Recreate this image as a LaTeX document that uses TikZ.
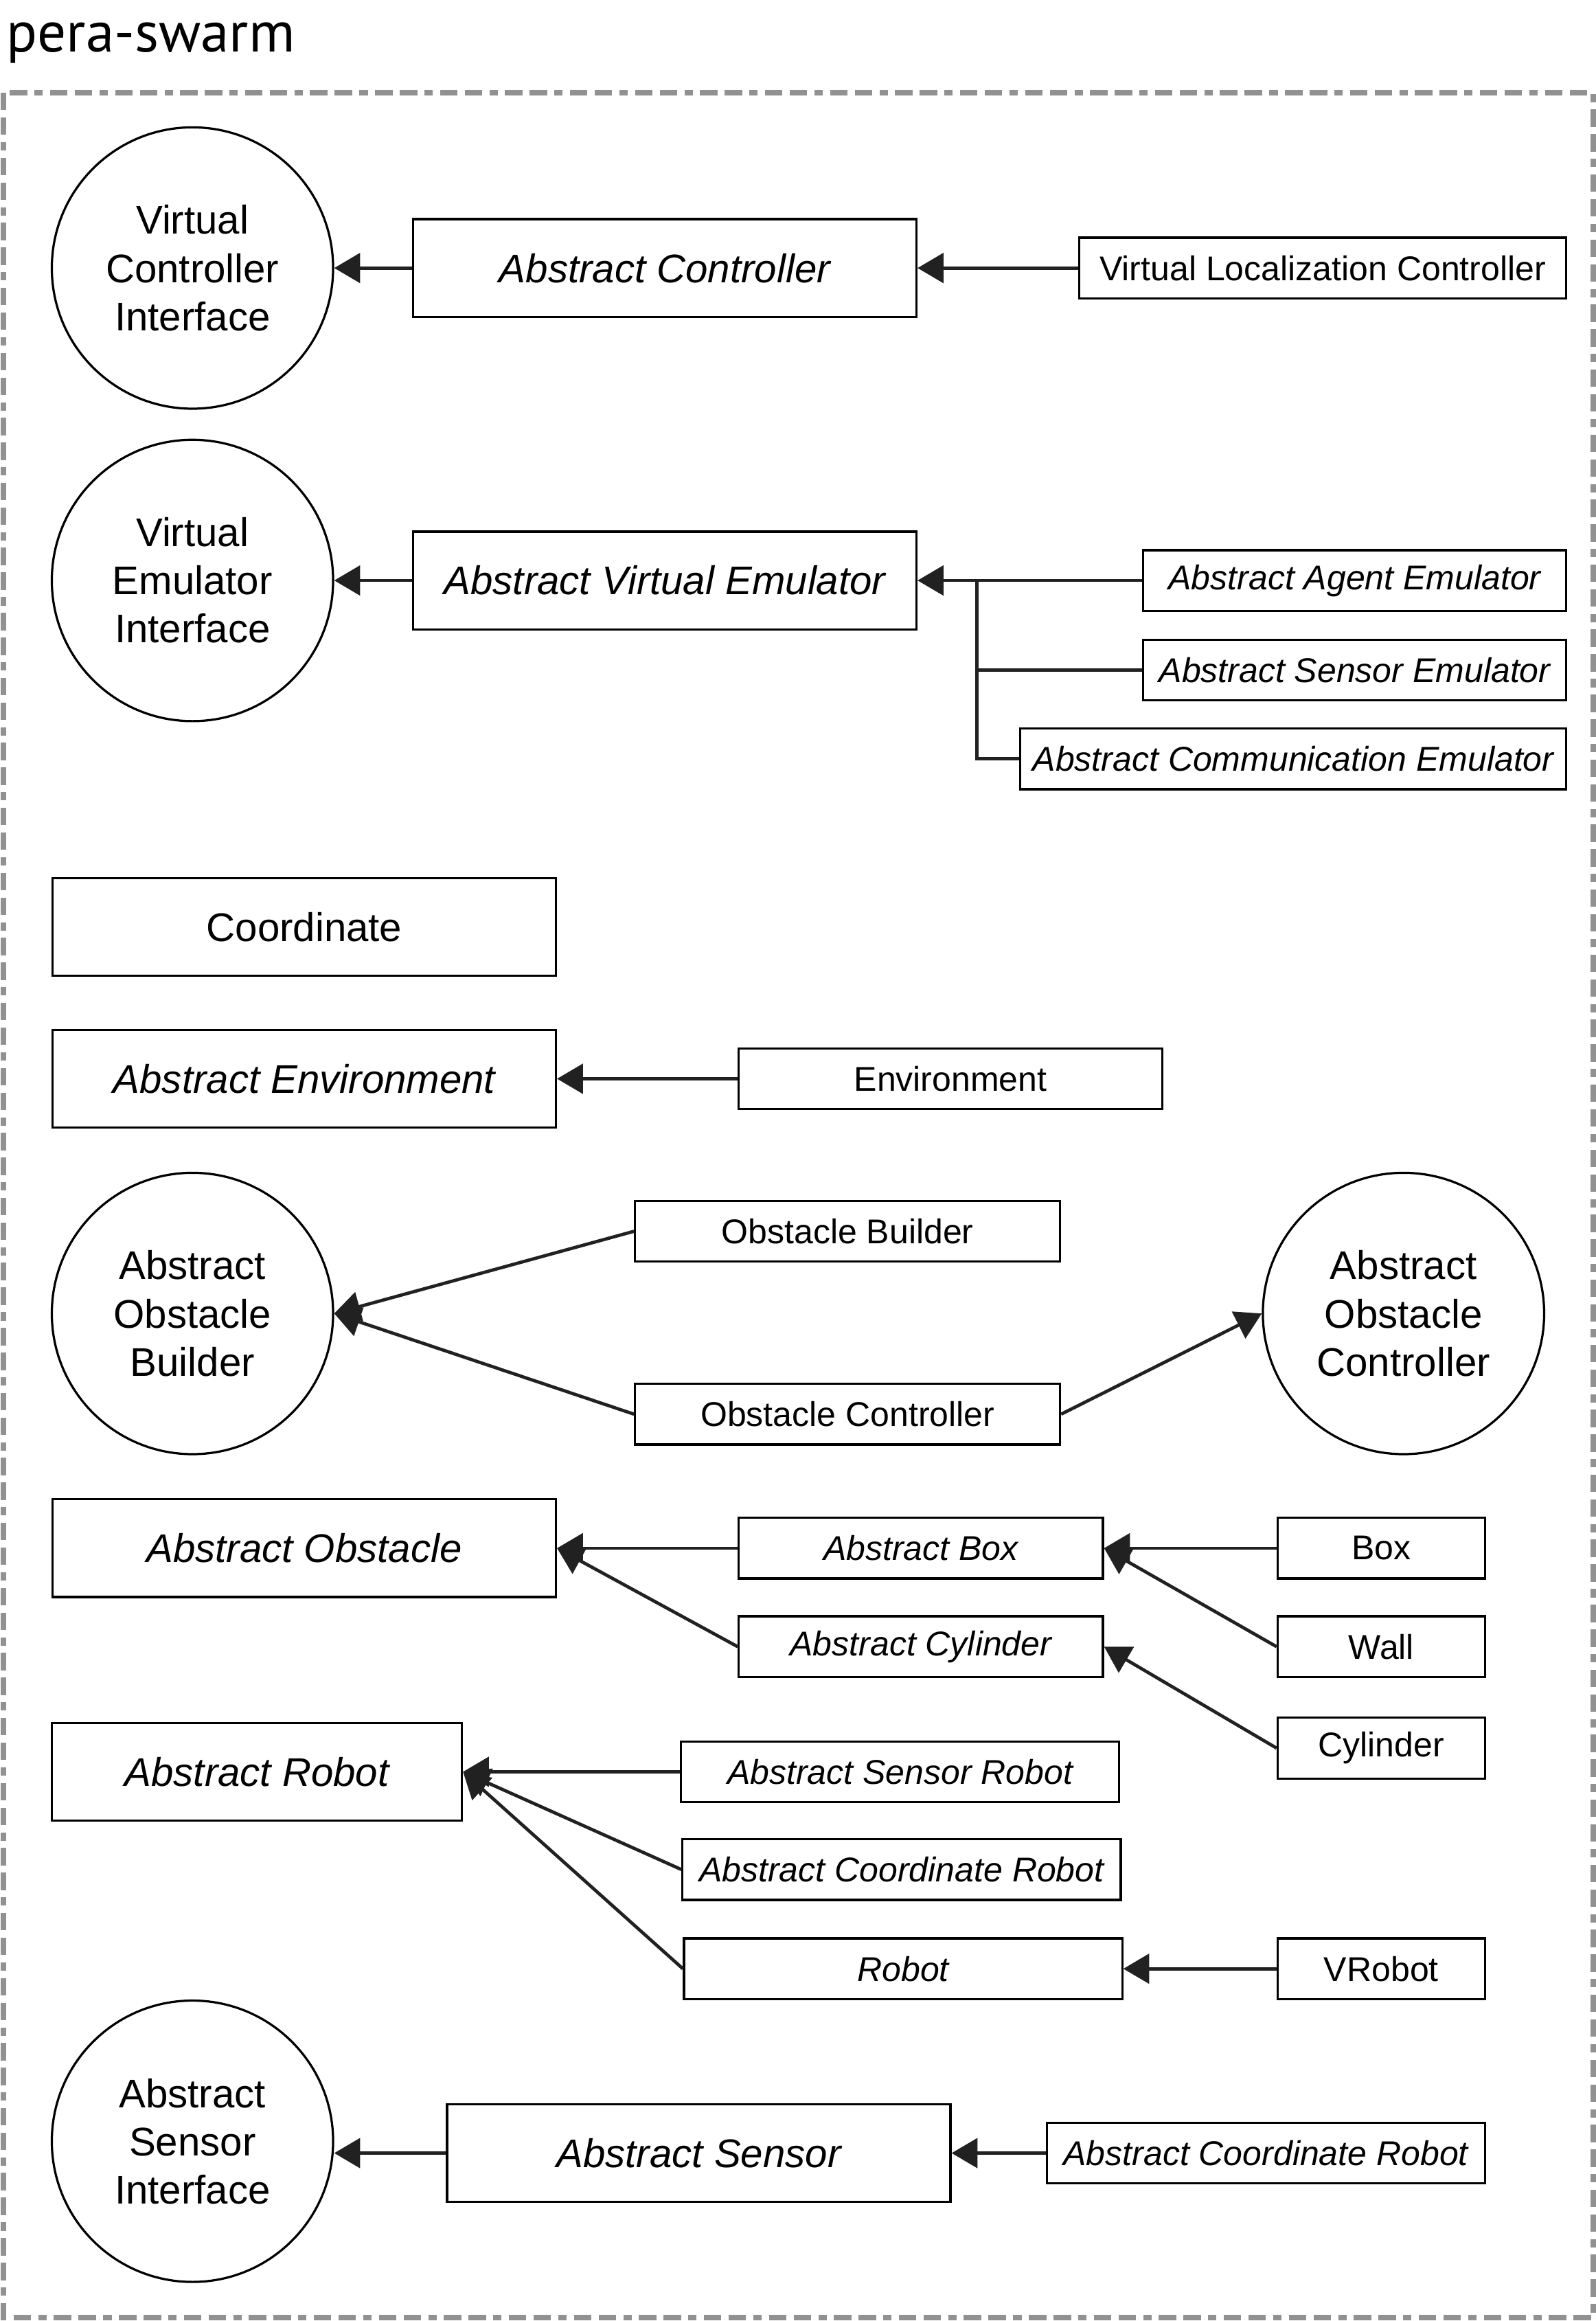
\documentclass[tikz,border=0pt]{standalone}
\usepackage{fontspec}
\setmainfont{Liberation Sans}
\newfontfamily\titlefont{PT Sans}
\usetikzlibrary{arrows.meta}

\begin{document}
\begin{tikzpicture}[x=0.5pt, y=-0.5pt,
  frame/.style={draw=black!43, line width=2pt, dash pattern=on 5.9pt off 2.45pt on 5.9pt off 2.45pt on 2.8pt off 2.45pt},
  bigbox/.style={draw, line width=0.75pt, minimum width=170pt, minimum height=33pt, inner sep=0pt, font=\fontsize{13.5}{16.25}\selectfont},
  bigabs/.style={bigbox, font=\fontsize{13.5}{16.25}\selectfont\itshape},
  smallbox/.style={draw, line width=0.75pt, minimum height=20.5pt, inner sep=0pt, font=\fontsize{11.6}{14}\selectfont},
  smallabs/.style={smallbox, font=\fontsize{11.6}{14}\selectfont\itshape},
  iface/.style={draw, circle, line width=0.75pt, minimum size=95pt, inner sep=0pt, align=center, font=\fontsize{13.5}{16.25}\selectfont},
  ext/.style={draw=black!87, line width=1.1pt, -{Triangle[length=8.75pt, width=10pt]}},
  link/.style={draw=black!87, line width=1.1pt}]
\useasboundingbox (0,0) rectangle (1078,1567.4);
\draw[frame] (2.3,62.6) rectangle (1076.1,1565);
\node[anchor=base west, inner sep=0pt, font=\titlefont\fontsize{19.3}{23}\selectfont] (title) at (4,34.8) {pera-swarm};

\node[iface] (vci) at (130,181) {Virtual\\Controller\\Interface};
\node[bigabs] (ac) at (449,181) {Abstract Controller};
\node[smallbox, minimum width=164.5pt] (vlc) at (893.5,181) {Virtual Localization Controller};

\node[iface] (vei) at (130,392) {Virtual\\Emulator\\Interface};
\node[bigabs] (ave) at (449,392) {Abstract Virtual Emulator};
\node[smallabs, minimum width=143pt] (aae) at (915,392) {Abstract Agent Emulator};
\node[smallabs, minimum width=143pt] (ase) at (915,452.5) {Abstract Sensor Emulator};
\node[smallabs, minimum width=184.5pt] (ace) at (873.5,512.5) {Abstract Communication Emulator};
\coordinate (fork) at (660,392);

\node[bigbox] (coord) at (205.5,626) {Coordinate};
\node[bigabs] (aenv) at (205.5,728.5) {Abstract Environment};
\node[smallbox, minimum width=143pt] (env) at (642,728.5) {Environment};

\node[iface] (aob) at (130,887) {Abstract\\Obstacle\\Builder};
\node[smallbox, minimum width=143.5pt] (obuild) at (572.5,831.5) {Obstacle Builder};
\node[smallbox, minimum width=143.5pt] (octrl) at (572.5,955) {Obstacle Controller};
\node[iface] (aoc) at (948,887) {Abstract\\Obstacle\\Controller};

\node[bigabs] (aobs) at (205.5,1045.5) {Abstract Obstacle};
\node[smallabs, minimum width=123pt] (abox) at (622,1045.5) {Abstract Box};
\node[smallabs, minimum width=123pt] (acyl) at (622,1112) {Abstract Cylinder};
\node[smallbox, minimum width=70pt] (box) at (933,1045.5) {Box};
\node[smallbox, minimum width=70pt] (wall) at (933,1112) {Wall};
\node[smallbox, minimum width=70pt] (cyl) at (933,1180.5) {Cylinder};

\node[bigabs, minimum width=138.5pt] (arob) at (173.5,1196.5) {Abstract Robot};
\node[smallabs, minimum width=148pt] (asr) at (608,1196.5) {Abstract Sensor Robot};
\node[smallabs, minimum width=148pt] (acr) at (609,1262.5) {Abstract Coordinate Robot};
\node[smallabs, minimum width=148pt] (rob) at (610,1329.5) {Robot};
\node[smallbox, minimum width=70pt] (vrob) at (933,1329.5) {VRobot};

\node[iface] (asi) at (130,1446) {Abstract\\Sensor\\Interface};
\node[bigabs] (asen) at (472,1454) {Abstract Sensor};
\node[smallabs, minimum width=148pt] (acr2) at (855,1454) {Abstract Coordinate Robot};

\draw[ext] (ac) -- (vci);
\draw[ext] (vlc) -- (ac);
\draw[ext] (ave) -- (vei);
\draw[ext] (aae) -- (ave);
\draw[link] (ase.west) -| (fork);
\draw[link] (ace.west) -| (fork);
\draw[ext] (env) -- (aenv);
\draw[ext] (obuild.west) -- (aob.east);
\draw[ext] (octrl.west) -- (aob.east);
\draw[ext] (octrl.east) -- (aoc.west);
\draw[ext] (abox) -- (aobs);
\draw[ext] (acyl.west) -- (aobs.east);
\draw[ext] (box) -- (abox);
\draw[ext] (wall.west) -- (abox.east);
\draw[ext] (cyl.west) -- (acyl.east);
\draw[ext] (asr) -- (arob);
\draw[ext] (acr.west) -- (arob.east);
\draw[ext] (rob.west) -- (arob.east);
\draw[ext] (vrob) -- (rob);
\draw[ext] (asen.west) -- (asen.west -| asi.east);
\draw[ext] (acr2) -- (asen);
\end{tikzpicture}
\end{document}
